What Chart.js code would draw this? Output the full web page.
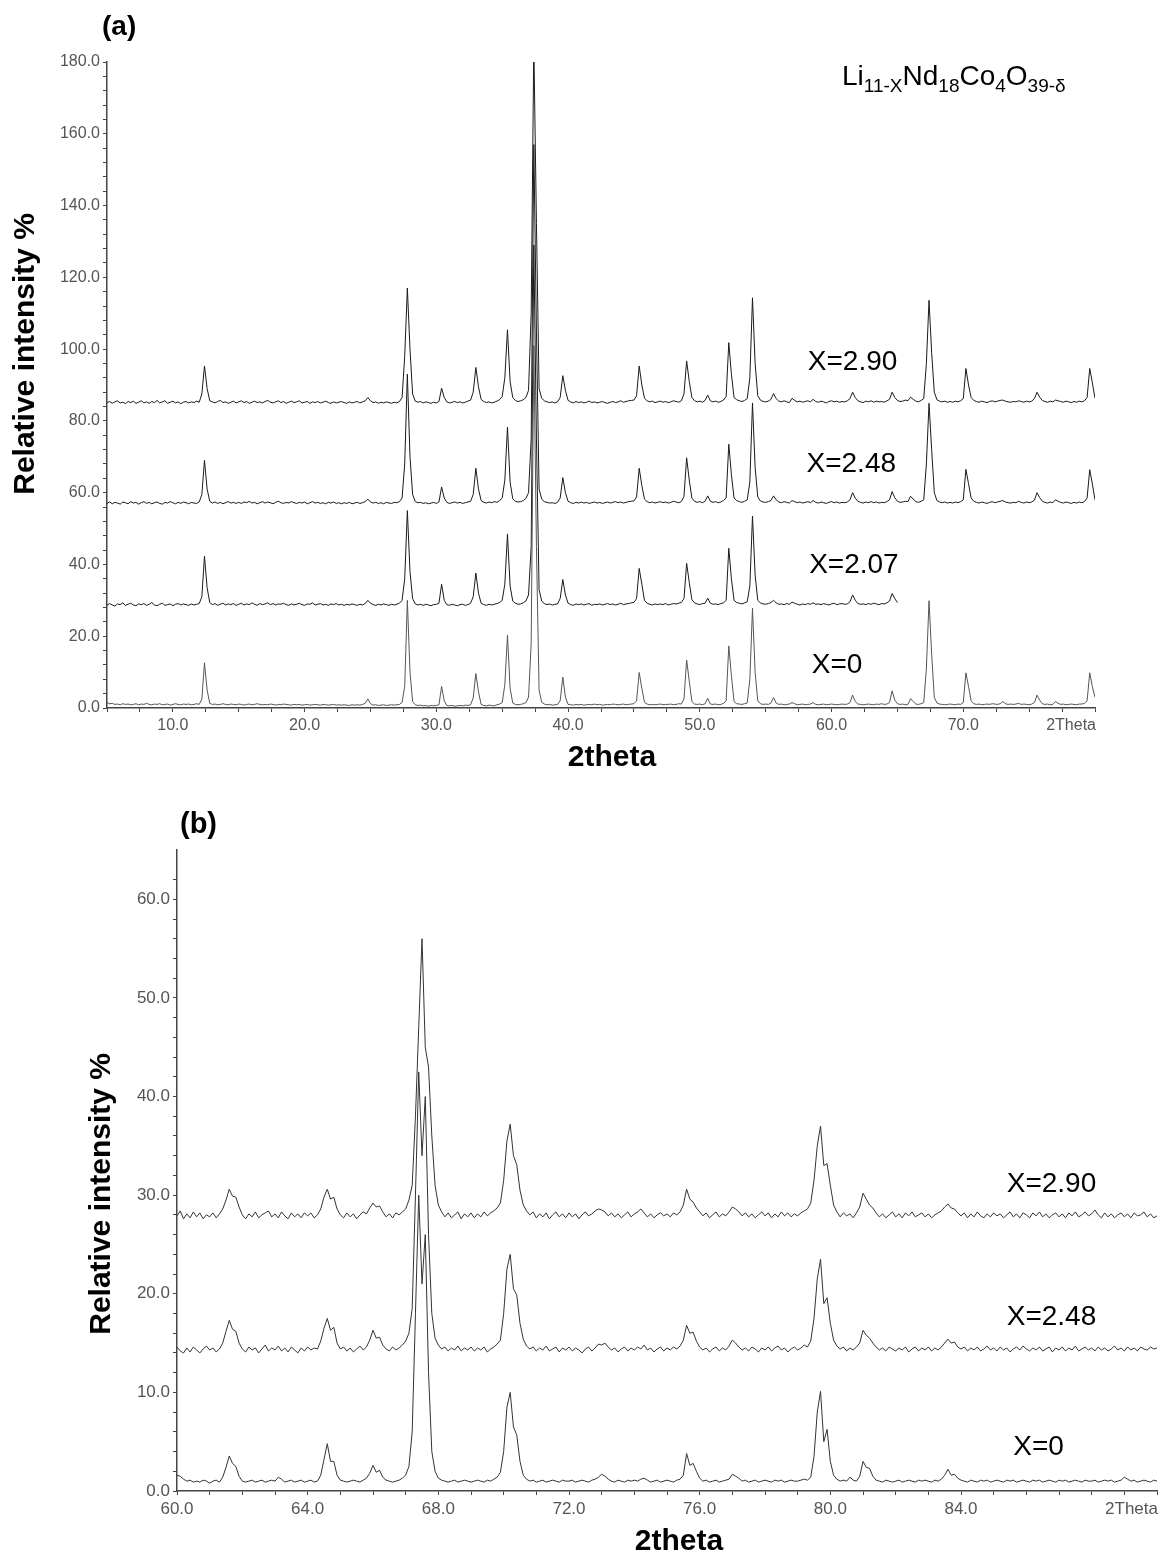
<!DOCTYPE html>
<html>
<head>
<meta charset="utf-8">
<script src="https://cdn.jsdelivr.net/npm/chart.js@4.4.1/dist/chart.umd.min.js"></script>
<style>
  html, body { margin: 0; padding: 0; background: #fff; }
  body { width: 1161px; height: 1557px; position: relative; overflow: hidden; }
  .panel { position: absolute; left: 0; width: 1161px; }
  #wrapA { top: 0; height: 785px; }
  #wrapB { top: 785px; height: 772px; }
</style>
</head>
<body>
<div class="panel" id="wrapA"><canvas id="chartA"></canvas></div>
<div class="panel" id="wrapB"><canvas id="chartB"></canvas></div>
<script>
// scan grids: panel (a) 5.0-80.0 every 0.2 deg, panel (b) 60.0-90.0 every 0.1 deg
const startA = 5.0, stepA = 0.2;
const startB = 60.0, stepB = 0.1;

// panel (a), one row = 2 degrees
const x0A = [
  1.5, 1.2, 1.3, 1.0, 1.1, 0.9, 1.2, 1.0, 1.1, 0.9,   // 5
  1.0, 1.2, 0.9, 1.1, 1.0, 1.3, 1.0, 0.9, 1.1, 1.0,   // 7
  1.2, 0.9, 1.0, 1.1, 0.8, 1.0, 1.2, 1.0, 0.9, 1.1,   // 9
  1.0, 1.1, 0.9, 1.0, 1.2, 1.0, 2.5, 12.6, 5.0, 1.3,  // 11
  1.0, 1.1, 0.9, 1.0, 1.2, 1.0, 0.9, 1.1, 1.0, 0.9,   // 13
  1.1, 1.0, 0.8, 1.0, 1.1, 0.9, 1.0, 1.2, 1.0, 0.9,   // 15
  1.0, 0.9, 1.1, 1.0, 0.8, 1.0, 0.9, 1.1, 1.0, 0.9,   // 17
  0.8, 1.0, 0.9, 1.0, 0.8, 0.9, 1.0, 0.8, 0.9, 1.0,   // 19
  0.9, 0.8, 1.0, 0.9, 0.8, 0.9, 1.0, 0.8, 0.9, 0.8,   // 21
  0.9, 0.8, 0.7, 0.9, 0.8, 0.9, 0.8, 1.0, 1.3, 2.5,   // 23
  1.2, 0.8, 0.9, 0.7, 0.8, 0.9, 0.7, 0.8, 0.9, 0.8,   // 25
  0.9, 1.0, 1.6, 6.0, 30.0, 10.0, 1.8, 0.9, 0.7, 0.8, // 27
  0.6, 0.7, 0.5, 0.7, 0.6, 0.7, 0.9, 6.0, 2.0, 0.7,   // 29
  0.6, 0.7, 0.5, 0.6, 0.7, 0.6, 0.8, 0.7, 0.9, 2.8,   // 31
  9.6, 4.5, 1.0, 0.7, 0.6, 0.8, 0.7, 0.6, 0.9, 1.1,   // 33
  1.5, 6.5, 20.3, 5.5, 1.4, 1.0, 0.9, 1.0, 1.2, 1.5,  // 35
  3.0, 18.0, 101.0, 45.0, 5.0, 1.6, 1.1, 0.9, 1.0, 0.8, // 37
  0.9, 1.0, 2.0, 8.6, 3.0, 1.0, 0.9, 0.8, 1.0, 0.9,   // 39
  1.0, 0.8, 0.9, 1.0, 0.9, 1.1, 0.9, 1.0, 0.8, 0.9,   // 41
  1.0, 0.9, 1.1, 1.0, 0.9, 1.0, 1.1, 0.9, 1.0, 1.1,   // 43
  1.2, 2.0, 9.9, 5.5, 1.6, 1.1, 0.9, 1.0, 0.9, 1.0,   // 45
  1.1, 0.9, 1.0, 1.0, 1.1, 0.9, 1.0, 1.2, 1.1, 2.5,   // 47
  13.4, 7.5, 1.8, 1.1, 1.0, 1.1, 0.9, 1.2, 2.7, 1.1,  // 49
  1.0, 1.1, 0.9, 1.0, 1.3, 2.0, 17.3, 9.0, 1.8, 1.2,  // 51
  1.1, 1.0, 1.2, 1.4, 8.0, 27.8, 10.0, 2.0, 1.2, 1.0, // 53
  1.1, 1.0, 1.4, 2.9, 1.4, 1.0, 1.1, 0.9, 1.0, 1.1,   // 55
  1.5, 1.2, 0.9, 1.0, 1.1, 0.9, 1.0, 1.1, 1.5, 1.0,   // 57
  0.9, 1.0, 1.1, 0.9, 1.0, 1.1, 1.0, 0.9, 1.0, 1.1,   // 59
  1.0, 1.1, 1.5, 3.6, 1.8, 1.1, 1.0, 0.9, 1.0, 1.1,   // 61
  1.0, 0.9, 1.1, 1.0, 1.2, 1.0, 1.1, 1.5, 4.8, 2.2,   // 63
  1.2, 1.0, 1.1, 0.9, 1.0, 2.6, 1.8, 1.1, 1.0, 1.2,   // 65
  1.5, 11.0, 29.9, 15.0, 3.0, 1.4, 1.1, 1.0, 0.9, 1.0, // 67
  1.1, 1.0, 0.9, 1.1, 1.0, 1.5, 9.8, 6.0, 2.0, 1.2,   // 69
  1.0, 1.1, 0.9, 1.0, 1.1, 1.0, 1.2, 1.1, 1.0, 1.2,   // 71
  1.8, 1.2, 1.0, 1.1, 1.0, 1.1, 1.3, 1.0, 1.1, 1.0,   // 73
  0.9, 1.1, 1.5, 3.6, 2.2, 1.2, 1.0, 1.1, 0.9, 1.0,   // 75
  1.8, 1.3, 1.0, 1.1, 0.9, 1.0, 1.1, 1.0, 0.9, 1.1,   // 77
  1.1, 1.3, 2.0, 9.8, 5.9, 3.0];                       // 79-80

// X=2.07 was only scanned up to 65 deg
const x207A = [
  28.6, 29.1, 28.7, 28.4, 29.0, 28.8, 29.3, 28.6, 28.9, 29.2,
  28.7, 28.5, 29.0, 28.8, 29.1, 28.6, 28.9, 29.4, 28.7, 28.5,
  28.9, 29.2, 28.6, 28.8, 29.0, 28.5, 28.9, 29.1, 28.7, 29.0,
  28.8, 28.6, 29.0, 28.7, 28.9, 29.1, 31.0, 42.3, 33.5, 29.4,
  28.8, 29.1, 28.6, 28.9, 29.2, 28.7, 29.0, 28.8, 29.1, 28.6,
  28.9, 29.2, 28.7, 29.0, 28.8, 29.3, 28.9, 28.6, 29.1, 28.8,
  29.0, 29.3, 28.8, 29.1, 28.7, 29.0, 28.9, 29.2, 28.8, 28.6,
  29.0, 28.7, 28.9, 29.2, 28.8, 28.6, 29.0, 28.9, 29.3, 28.7,
  28.9, 29.1, 28.7, 28.9, 28.6, 29.0, 28.8, 29.1, 28.7, 28.9,
  28.6, 28.9, 28.7, 29.0, 28.8, 28.6, 28.9, 28.7, 29.1, 30.0,
  29.2, 28.8, 28.6, 28.9, 28.7, 29.0, 28.8, 28.6, 28.9, 28.7,
  28.9, 29.2, 30.0, 36.0, 55.0, 38.0, 30.5, 29.0, 28.7, 28.9,
  28.6, 28.9, 28.7, 28.5, 28.8, 28.9, 29.2, 34.5, 30.0, 28.8,
  28.6, 28.9, 28.7, 28.5, 28.8, 28.9, 28.6, 28.8, 29.2, 31.0,
  37.6, 32.0, 29.2, 28.8, 28.6, 28.9, 28.7, 28.9, 29.1, 29.4,
  30.0, 34.5, 48.5, 34.0, 29.8, 29.2, 28.9, 29.0, 29.3, 29.8,
  31.5, 45.0, 129.0, 75.0, 33.0, 29.8, 29.1, 28.8, 29.0, 28.7,
  28.9, 29.0, 30.5, 35.8, 31.5, 29.2, 28.8, 28.6, 29.0, 28.8,
  29.0, 28.7, 28.9, 29.1, 28.6, 28.9, 28.8, 29.0, 28.7, 28.9,
  29.1, 28.8, 29.0, 28.7, 28.9, 29.2, 28.8, 29.0, 29.1, 29.3,
  29.4, 30.5, 38.9, 34.5, 30.0, 29.2, 28.9, 28.7, 29.0, 28.8,
  29.0, 28.8, 29.1, 28.7, 28.9, 29.1, 29.0, 29.2, 29.4, 30.5,
  40.3, 35.0, 30.2, 29.3, 29.0, 28.8, 29.1, 29.2, 30.6, 29.2,
  28.9, 29.0, 28.8, 29.1, 29.3, 30.0, 44.5, 36.0, 30.0, 29.4,
  29.2, 29.0, 29.3, 29.6, 34.0, 53.5, 37.0, 30.0, 29.3, 29.0,
  28.9, 29.1, 29.4, 30.0, 29.3, 28.9, 29.0, 28.8, 29.1, 28.9,
  29.5, 29.2, 28.9, 28.7, 29.0, 28.8, 29.1, 28.9, 29.3, 28.9,
  29.0, 28.8, 29.1, 28.9, 28.7, 29.0, 29.2, 28.8, 29.0, 29.1,
  28.9, 29.0, 29.6, 31.5, 30.0, 29.1, 28.9, 29.0, 28.8, 29.1,
  28.9, 29.2, 29.0, 28.8, 29.1, 29.0, 29.3, 29.8, 31.9, 30.5,
  29.4];

const x248A = [
  57.0, 57.4, 56.9, 57.3, 57.1, 56.8, 57.4, 57.2, 56.9, 57.5,
  57.1, 57.3, 56.8, 57.2, 57.5, 57.0, 57.3, 56.9, 57.2, 57.4,
  57.0, 56.8, 57.3, 57.1, 57.5, 57.2, 56.9, 57.3, 57.0, 57.4,
  57.2, 56.9, 57.3, 57.1, 57.0, 57.4, 59.5, 69.0, 61.0, 57.6,
  57.1, 57.4, 57.0, 57.3, 56.9, 57.2, 57.5, 57.1, 57.3, 57.0,
  57.3, 57.0, 57.4, 57.2, 57.6, 57.1, 57.3, 56.9, 57.2, 57.5,
  57.1, 57.4, 57.2, 56.9, 57.3, 57.6, 57.2, 57.0, 57.3, 57.1,
  57.5, 57.2, 57.0, 57.3, 57.1, 57.4, 56.9, 57.2, 57.5, 57.1,
  57.3, 57.0, 57.2, 56.9, 57.3, 57.1, 57.4, 57.0, 57.2, 56.9,
  57.2, 57.0, 57.3, 56.9, 57.1, 57.3, 57.0, 57.2, 57.5, 58.2,
  57.4, 57.1, 57.3, 57.0, 57.2, 56.9, 57.3, 57.1, 57.0, 57.3,
  57.2, 57.5, 58.5, 68.0, 93.0, 70.0, 59.5, 57.5, 57.2, 57.3,
  57.0, 57.2, 56.9, 57.1, 57.3, 57.0, 57.4, 61.6, 58.5, 57.3,
  57.0, 57.2, 57.4, 57.1, 57.3, 57.0, 57.2, 57.4, 57.6, 59.5,
  66.8, 61.0, 57.8, 57.3, 57.1, 57.4, 57.2, 57.5, 57.3, 57.8,
  58.5, 63.5, 78.3, 63.0, 58.3, 57.6, 57.4, 57.5, 57.8, 58.4,
  60.0, 75.0, 157.0, 105.0, 61.0, 58.2, 57.5, 57.3, 57.1, 57.2,
  57.0, 57.3, 58.5, 64.2, 60.0, 57.6, 57.2, 57.0, 57.3, 57.1,
  57.4, 57.1, 57.3, 57.0, 57.2, 57.4, 57.1, 57.3, 57.0, 57.2,
  57.4, 57.1, 57.3, 57.5, 57.2, 57.4, 57.1, 57.3, 57.5, 57.6,
  57.7, 58.8, 66.8, 62.0, 58.2, 57.5, 57.2, 57.4, 57.1, 57.3,
  57.5, 57.2, 57.4, 57.1, 57.3, 57.6, 57.4, 57.2, 57.5, 59.0,
  69.7, 63.5, 58.5, 57.6, 57.3, 57.5, 57.2, 57.6, 59.1, 57.6,
  57.3, 57.5, 57.2, 57.4, 57.8, 58.5, 73.5, 65.0, 58.5, 57.8,
  57.5, 57.3, 57.6, 58.0, 63.0, 85.0, 67.0, 58.8, 57.7, 57.4,
  57.3, 57.5, 57.8, 59.1, 58.0, 57.4, 57.2, 57.5, 57.3, 57.1,
  57.8, 57.5, 57.2, 57.4, 57.1, 57.3, 57.5, 57.2, 57.8, 57.3,
  57.1, 57.4, 57.2, 57.0, 57.3, 57.5, 57.2, 57.4, 57.1, 57.3,
  57.2, 57.4, 58.0, 60.0, 58.5, 57.6, 57.3, 57.1, 57.4, 57.2,
  57.5, 57.2, 57.4, 57.1, 57.3, 57.2, 57.5, 58.0, 60.3, 58.6,
  57.6, 57.3, 57.4, 57.6, 57.5, 59.0, 58.2, 57.5, 57.3, 57.6,
  58.0, 68.0, 84.9, 72.0, 60.0, 57.8, 57.4, 57.2, 57.4, 57.1,
  57.3, 57.1, 57.4, 57.2, 57.5, 58.0, 66.5, 62.5, 58.5, 57.6,
  57.3, 57.1, 57.4, 57.2, 57.0, 57.3, 57.5, 57.2, 57.4, 57.6,
  57.8, 57.4, 57.2, 57.1, 57.3, 57.2, 57.6, 57.3, 57.1, 57.4,
  57.2, 57.4, 57.9, 60.0, 58.6, 57.6, 57.3, 57.1, 57.4, 57.2,
  58.0, 57.6, 57.3, 57.1, 57.4, 57.2, 57.0, 57.3, 57.1, 57.4,
  57.2, 57.5, 58.5, 66.4, 62.4, 58.0];

const x290A = [
  85.1, 85.4, 84.9, 85.3, 85.6, 85.0, 85.2, 84.8, 85.4, 85.1,
  85.5, 84.9, 85.2, 85.6, 85.0, 85.3, 84.9, 85.4, 85.1, 85.7,
  85.0, 85.3, 85.6, 84.9, 85.2, 85.5, 85.0, 85.3, 84.8, 85.2,
  85.4, 85.0, 85.3, 85.1, 85.5, 85.2, 87.5, 95.3, 89.0, 85.6,
  85.3, 85.0, 85.4, 85.7, 85.1, 85.3, 84.9, 85.2, 85.5, 85.0,
  85.3, 85.6, 85.1, 85.4, 84.9, 85.2, 85.5, 85.1, 85.3, 85.0,
  85.4, 85.7, 85.2, 85.0, 85.3, 85.6, 85.1, 85.4, 84.9, 85.2,
  85.5, 85.1, 85.3, 85.6, 85.0, 85.2, 85.4, 84.9, 85.3, 85.1,
  85.4, 85.0, 85.2, 85.5, 85.1, 84.9, 85.3, 85.0, 85.2, 85.4,
  85.1, 84.9, 85.3, 85.0, 85.2, 85.4, 85.0, 85.3, 85.6, 86.5,
  85.6, 85.1, 85.3, 84.9, 85.2, 85.0, 85.3, 85.1, 84.9, 85.2,
  85.0, 85.4, 86.5, 98.0, 117.0, 100.0, 87.5, 85.5, 85.2, 85.4,
  85.0, 85.3, 85.1, 84.9, 85.2, 85.0, 85.4, 89.1, 86.5, 85.3,
  85.0, 85.2, 85.4, 85.1, 85.3, 85.0, 85.2, 85.5, 85.8, 88.0,
  94.9, 89.5, 86.0, 85.4, 85.1, 85.3, 85.0, 85.2, 85.5, 85.9,
  86.8, 92.0, 105.4, 91.0, 86.5, 85.7, 85.4, 85.6, 85.9, 86.5,
  88.5, 110.0, 185.0, 135.0, 89.0, 86.3, 85.6, 85.3, 85.1, 85.3,
  85.0, 85.3, 86.5, 92.6, 88.5, 85.7, 85.3, 85.0, 85.4, 85.1,
  85.3, 85.0, 85.2, 85.5, 85.1, 85.3, 85.0, 85.2, 85.4, 85.1,
  84.9, 85.2, 85.4, 85.1, 85.3, 85.6, 85.2, 85.4, 85.6, 85.7,
  85.8, 87.0, 95.3, 90.0, 86.3, 85.6, 85.3, 85.5, 85.1, 85.3,
  85.5, 85.2, 85.4, 85.1, 85.3, 85.6, 85.4, 85.2, 85.6, 87.5,
  96.7, 91.0, 86.5, 85.6, 85.3, 85.5, 85.2, 85.7, 87.2, 85.6,
  85.3, 85.5, 85.2, 85.4, 85.8, 86.8, 101.8, 93.0, 86.5, 85.9,
  85.6, 85.4, 85.7, 86.2, 92.0, 114.3, 96.0, 87.0, 85.8, 85.4,
  85.3, 85.5, 86.0, 87.6, 86.2, 85.5, 85.3, 85.6, 85.3, 85.1,
  86.3, 85.7, 85.3, 85.5, 85.2, 85.4, 85.6, 85.3, 86.0, 85.4,
  85.2, 85.5, 85.3, 85.0, 85.4, 85.6, 85.3, 85.5, 85.2, 85.4,
  85.3, 85.6, 86.2, 88.0, 86.5, 85.6, 85.3, 85.1, 85.5, 85.3,
  85.6, 85.2, 85.5, 85.3, 85.4, 85.2, 85.6, 86.0, 88.0, 86.5,
  85.7, 85.4, 85.5, 85.8, 85.6, 86.6, 86.0, 85.5, 85.3, 85.7,
  86.2, 96.0, 113.6, 99.0, 88.0, 85.9, 85.5, 85.3, 85.5, 85.2,
  85.4, 85.2, 85.5, 85.3, 85.6, 86.2, 94.6, 90.0, 86.5, 85.7,
  85.4, 85.2, 85.5, 85.3, 85.1, 85.4, 85.6, 85.3, 85.5, 85.7,
  85.8, 85.5, 85.3, 85.2, 85.4, 85.3, 85.6, 85.4, 85.2, 85.5,
  85.3, 85.5, 86.2, 88.0, 86.6, 85.7, 85.4, 85.2, 85.5, 85.3,
  85.8, 85.6, 85.4, 85.2, 85.5, 85.3, 85.1, 85.4, 85.2, 85.5,
  85.3, 85.6, 86.5, 94.6, 90.6, 86.3];

// panel (b), one row = 1 degree
const x0B = [
  1.6, 1.5, 1.2, 1.0, 1.1, 0.9, 1.0, 0.9, 1.1, 1.0,   // 60
  0.8, 1.0, 1.1, 0.9, 1.4, 2.4, 3.55, 2.8, 2.5, 1.5,  // 61
  1.0, 0.9, 1.0, 1.1, 0.9, 1.0, 1.1, 0.9, 1.0, 1.1,   // 62
  1.0, 1.4, 1.2, 0.9, 1.0, 1.1, 0.9, 1.0, 1.1, 0.9,   // 63
  1.0, 1.1, 0.9, 1.0, 1.6, 3.2, 4.8, 3.0, 3.0, 1.6,   // 64
  1.1, 1.0, 0.9, 1.0, 1.1, 1.0, 0.9, 1.1, 1.3, 1.8,   // 65
  2.6, 1.9, 2.1, 1.4, 1.1, 1.0, 0.9, 1.0, 1.1, 1.3,   // 66
  1.6, 2.5, 6.0, 18.0, 30.0, 21.0, 26.0, 12.0, 4.0, 2.0, // 67
  1.3, 1.1, 1.0, 0.9, 1.0, 1.1, 0.9, 1.0, 1.1, 1.0,   // 68
  0.9, 1.0, 1.1, 1.0, 0.9, 1.1, 1.0, 1.2, 1.4, 1.9,   // 69
  4.0, 8.5, 10.0, 6.5, 5.7, 3.0, 1.6, 1.2, 1.0, 1.1,  // 70
  0.9, 1.0, 1.1, 0.9, 1.0, 1.1, 1.0, 0.9, 1.1, 1.0,   // 71
  1.0, 1.1, 0.9, 1.0, 1.1, 1.0, 0.9, 1.1, 1.2, 1.4,   // 72
  1.7, 1.5, 1.2, 1.0, 0.9, 1.1, 1.0, 0.9, 1.1, 1.0,   // 73
  1.1, 1.0, 1.2, 1.3, 1.1, 0.9, 1.0, 1.1, 0.9, 1.0,   // 74
  1.1, 1.0, 0.9, 1.1, 1.2, 1.6, 3.8, 2.6, 2.8, 2.0,   // 75
  1.3, 1.0, 1.1, 0.9, 1.0, 1.1, 0.9, 1.0, 1.1, 1.2,   // 76
  1.7, 1.5, 1.3, 1.0, 1.1, 0.9, 1.0, 1.1, 0.9, 1.0,   // 77
  1.1, 1.0, 0.9, 1.1, 1.0, 1.1, 0.9, 1.0, 1.1, 1.0,   // 78
  1.0, 1.1, 1.2, 1.1, 1.4, 3.5, 8.0, 10.1, 5.0, 6.25, // 79
  3.0, 1.6, 1.2, 1.0, 1.1, 1.0, 1.4, 1.1, 1.0, 1.5,   // 80
  3.0, 2.4, 2.3, 1.5, 1.1, 1.0, 0.9, 1.1, 1.0, 0.9,   // 81
  1.0, 1.1, 0.9, 1.0, 1.1, 1.0, 0.9, 1.1, 1.0, 1.1,   // 82
  1.0, 0.9, 1.1, 1.0, 1.2, 1.6, 2.2, 1.6, 1.7, 1.3,   // 83
  1.1, 1.0, 0.9, 1.1, 1.0, 0.9, 1.1, 1.0, 1.1, 0.9,   // 84
  1.0, 1.1, 1.0, 0.9, 1.1, 1.0, 1.1, 0.9, 1.0, 1.1,   // 85
  1.0, 0.9, 1.1, 1.0, 1.1, 0.9, 1.0, 1.1, 1.0, 0.9,   // 86
  1.1, 1.0, 1.1, 0.9, 1.0, 1.1, 1.0, 0.9, 1.1, 1.0,   // 87
  1.0, 1.1, 0.9, 1.0, 1.1, 1.0, 1.1, 0.9, 1.0, 1.1,   // 88
  1.4, 1.2, 1.0, 1.1, 0.9, 1.0, 1.1, 1.0, 0.9, 1.1,   // 89
  1.0];                                                // 90

const x248B = [
  14.6, 14.2, 14.0, 14.5, 14.1, 14.6, 14.3, 14.0, 14.4, 14.7,
  14.3, 14.5, 14.1, 14.4, 15.0, 16.2, 17.3, 16.4, 16.2, 15.0,
  14.4, 14.1, 14.6, 14.3, 14.5, 14.0, 14.4, 14.8, 14.2, 14.5,
  14.3, 14.7, 14.2, 14.5, 14.1, 14.6, 14.3, 14.0, 14.5, 14.2,
  14.6, 14.3, 14.5, 14.4, 15.2, 16.5, 17.5, 16.3, 16.6, 15.0,
  14.4, 14.6, 14.2, 14.5, 14.1, 14.4, 14.7, 14.3, 14.6, 15.3,
  16.3, 15.5, 15.6, 14.8, 14.4, 14.2, 14.6, 14.3, 14.5, 14.8,
  15.2, 16.0, 18.5, 30.0, 42.5, 34.0, 40.0, 26.0, 18.0, 15.5,
  14.8, 14.4, 14.6, 14.2, 14.5, 14.3, 14.7, 14.2, 14.5, 14.3,
  14.6, 14.2, 14.5, 14.3, 14.6, 14.1, 14.4, 14.6, 14.9, 15.3,
  18.0, 22.5, 24.0, 20.5, 19.9, 17.0, 15.4, 14.7, 14.4, 14.6,
  14.2, 14.5, 14.3, 14.7, 14.2, 14.4, 14.6, 14.1, 14.5, 14.3,
  14.6, 14.2, 14.5, 14.3, 14.0, 14.4, 14.6, 14.2, 14.5, 14.9,
  14.8, 15.0, 14.6, 14.3, 14.5, 14.1, 14.4, 14.6, 14.2, 14.5,
  14.3, 14.6, 14.4, 14.8, 14.3, 14.5, 14.1, 14.4, 14.6, 14.2,
  14.5, 14.3, 14.6, 14.4, 14.7, 15.3, 16.8, 16.0, 16.1, 15.2,
  14.6, 14.3, 14.5, 14.1, 14.4, 14.6, 14.2, 14.5, 14.3, 14.7,
  15.3, 15.0, 14.6, 14.3, 14.5, 14.2, 14.6, 14.4, 14.1, 14.5,
  14.3, 14.6, 14.2, 14.5, 14.7, 14.3, 14.5, 14.1, 14.4, 14.6,
  14.3, 14.5, 14.8, 14.6, 15.2, 17.5, 21.5, 23.5, 19.0, 19.6,
  17.0, 15.3, 14.7, 14.4, 14.6, 14.2, 14.5, 14.3, 14.6, 15.0,
  16.3, 15.8, 15.5, 15.0, 14.6, 14.3, 14.5, 14.2, 14.6, 14.4,
  14.2, 14.5, 14.3, 14.6, 14.1, 14.4, 14.6, 14.2, 14.5, 14.3,
  14.6, 14.2, 14.5, 14.3, 14.6, 15.0, 15.4, 15.0, 15.1, 14.6,
  14.4, 14.6, 14.2, 14.5, 14.3, 14.6, 14.2, 14.4, 14.7, 14.3,
  14.5, 14.2, 14.6, 14.3, 14.5, 14.1, 14.4, 14.6, 14.3, 14.7,
  14.4, 14.2, 14.5, 14.3, 14.6, 14.2, 14.4, 14.6, 14.1, 14.5,
  14.3, 14.6, 14.2, 14.5, 14.3, 14.7, 14.2, 14.4, 14.6, 14.3,
  14.5, 14.2, 14.6, 14.3, 14.5, 14.2, 14.4, 14.7, 14.3, 14.5,
  14.2, 14.6, 14.3, 14.5, 14.2, 14.6, 14.4, 14.3, 14.6, 14.4,
  14.5];

const x290B = [
  27.9, 28.4, 27.6, 28.1, 27.7, 28.3, 27.8, 28.2, 27.6, 28.0,
  27.8, 28.2, 27.7, 28.1, 28.6, 29.5, 30.6, 29.9, 29.8, 28.8,
  28.0, 27.6, 28.1, 27.8, 28.3, 27.7, 28.0, 28.2, 28.4, 27.8,
  28.1, 27.7, 28.3, 27.9, 27.6, 28.2, 27.8, 28.1, 27.7, 28.2,
  27.9, 28.2, 27.7, 28.0, 28.6, 29.8, 30.6, 29.6, 29.8, 28.6,
  28.0, 27.7, 28.2, 27.8, 28.1, 27.6, 28.0, 28.3, 28.1, 28.7,
  29.2, 28.8, 28.9, 28.3, 27.8, 28.1, 27.7, 28.2, 28.0, 28.3,
  28.6, 29.5, 31.0, 38.0, 47.0, 56.0, 45.0, 43.0, 36.0, 31.0,
  29.0, 28.3, 27.8, 28.2, 27.7, 28.0, 28.3, 27.6, 28.1, 27.8,
  28.2, 27.7, 28.1, 27.8, 28.3, 27.9, 28.2, 28.4, 28.7, 29.2,
  31.5, 35.5, 37.2, 34.0, 33.1, 30.5, 29.0, 28.4, 28.0, 28.3,
  27.7, 28.1, 27.8, 28.2, 27.6, 28.0, 28.3, 27.8, 28.1, 27.7,
  28.2, 27.8, 28.1, 27.6, 28.0, 28.3, 27.9, 28.1, 28.4, 28.6,
  28.5, 28.3, 27.9, 28.2, 27.8, 28.1, 27.7, 28.0, 28.3, 27.8,
  28.1, 28.3, 28.6, 28.2, 27.8, 28.1, 27.7, 28.0, 28.2, 27.9,
  28.1, 27.8, 28.2, 28.0, 28.3, 29.0, 30.6, 29.6, 29.3, 28.7,
  28.3, 27.9, 28.2, 27.7, 28.0, 28.3, 27.8, 28.1, 27.9, 28.3,
  28.8, 28.6, 28.3, 27.9, 28.2, 27.8, 28.1, 27.7, 28.0, 28.3,
  27.9, 28.2, 27.7, 28.1, 27.8, 28.3, 27.9, 28.2, 27.8, 28.1,
  27.9, 28.2, 28.4, 28.6, 29.2, 31.5, 35.0, 37.0, 33.0, 33.2,
  31.0, 29.0, 28.3, 27.8, 28.2, 27.9, 28.1, 27.7, 28.2, 28.8,
  30.2, 29.6, 29.0, 28.7, 28.2, 27.8, 28.1, 27.7, 28.0, 28.3,
  27.8, 28.1, 27.7, 28.2, 27.9, 28.3, 27.8, 28.0, 28.2, 27.8,
  28.1, 27.7, 28.0, 28.2, 28.4, 28.8, 29.1, 28.7, 28.6, 28.2,
  27.9, 28.2, 27.7, 28.1, 27.8, 28.3, 27.9, 27.7, 28.1, 27.8,
  28.2, 27.9, 28.1, 27.7, 28.0, 28.3, 27.8, 28.1, 27.7, 28.2,
  28.0, 27.7, 28.2, 27.9, 28.3, 27.8, 28.1, 27.7, 28.0, 28.2,
  27.8, 28.1, 27.7, 28.2, 27.9, 28.3, 27.8, 28.0, 28.3, 27.9,
  28.1, 28.5, 28.0, 27.7, 28.2, 27.8, 28.1, 27.7, 28.0, 28.2,
  27.8, 28.1, 27.7, 28.2, 27.9, 28.0, 28.3, 27.8, 28.1, 27.7,
  27.9];

const FONT = '"Liberation Sans", Arial, sans-serif';

function toPoints(start, step, ys) {
  return ys.map((y, i) => ({ x: Math.round((start + i * step) * 100) / 100, y: y }));
}

function isMultiple(v, step) {
  const r = v / step;
  return Math.abs(r - Math.round(r)) < 1e-6;
}

function trace(label, start, step, ys, color) {
  return {
    label: label,
    data: toPoints(start, step, ys),
    borderColor: color,
    borderWidth: 1,
    pointRadius: 0,
    tension: 0,
    fill: false
  };
}

// panel letter, axis titles, sample labels, formula and the "2Theta" end label
const panelText = {
  id: 'panelText',
  afterDraw(chart, args, o) {
    const ctx = chart.ctx;
    const xs = chart.scales.x;
    const ys = chart.scales.y;
    ctx.save();

    ctx.fillStyle = '#555';
    ctx.font = o.tickSize + 'px ' + FONT;
    ctx.textAlign = 'right';
    ctx.textBaseline = 'middle';
    ctx.fillText('2Theta', xs.right + 1, xs.top + 4 + o.tickPad + o.tickSize * 0.6);

    ctx.fillStyle = '#000';
    ctx.font = 'bold ' + o.letter.size + 'px ' + FONT;
    ctx.textAlign = 'left';
    ctx.textBaseline = 'alphabetic';
    ctx.fillText(o.letter.text, o.letter.x, o.letter.y);

    ctx.font = 'bold 30px ' + FONT;
    ctx.textAlign = 'center';
    ctx.textBaseline = 'middle';
    ctx.fillText('2theta', o.xTitle.x, o.xTitle.y);

    ctx.save();
    ctx.translate(o.yTitle.x, o.yTitle.y);
    ctx.rotate(-Math.PI / 2);
    ctx.textAlign = 'right';
    ctx.fillText('Relative intensity %', 0, 0);
    ctx.restore();

    ctx.font = o.labelSize + 'px ' + FONT;
    ctx.textAlign = 'left';
    ctx.textBaseline = 'alphabetic';
    o.labels.forEach(l => {
      ctx.fillText(l.text, xs.getPixelForValue(l.at[0]), ys.getPixelForValue(l.at[1]));
    });

    if (o.formula) {
      let x = o.formula.x;
      o.formula.parts.forEach(p => {
        const sub = p[1];
        ctx.font = (sub ? 19 : 28) + 'px ' + FONT;
        ctx.fillText(p[0], x, o.formula.y + (sub ? 7 : 0));
        x += ctx.measureText(p[0]).width;
      });
    }
    ctx.restore();
  }
};

function axisStyle() {
  return {
    grid: { drawOnChartArea: false, drawTicks: true, tickLength: 4, color: '#444', lineWidth: 1 },
    border: { display: true, color: '#444', width: 1.5 }
  };
}

new Chart(document.getElementById('chartA'), {
  type: 'line',
  data: {
    datasets: [
      trace('X=0', startA, stepA, x0A, '#555'),
      trace('X=2.07', startA, stepA, x207A, '#1a1a1a'),
      trace('X=2.48', startA, stepA, x248A, '#1a1a1a'),
      trace('X=2.90', startA, stepA, x290A, '#1a1a1a')
    ]
  },
  options: {
    responsive: true,
    maintainAspectRatio: false,
    animation: false,
    layout: { padding: { top: 62, right: 66, bottom: 0, left: 0 } },
    plugins: {
      legend: { display: false },
      tooltip: { enabled: false },
      panelText: {
        tickSize: 16, tickPad: 4,
        letter: { text: '(a)', x: 102, y: 35, size: 28 },
        xTitle: { x: 612, y: 758 },
        yTitle: { x: 26, y: 213 },
        labelSize: 28,
        labels: [
          { text: 'X=2.90', at: [58.2, 94.2] },
          { text: 'X=2.48', at: [58.1, 65.7] },
          { text: 'X=2.07', at: [58.3, 37.6] },
          { text: 'X=0', at: [58.5, 9.7] }
        ],
        formula: {
          x: 842, y: 85,
          parts: [['Li', false], ['11-X', true], ['Nd', false], ['18', true],
                  ['Co', false], ['4', true], ['O', false], ['39-\u03b4', true]]
        }
      }
    },
    scales: {
      x: Object.assign({
        type: 'linear', min: 5, max: 80,
        afterFit: s => { s.height = 77; },
        ticks: {
          stepSize: 2.5, autoSkip: false, maxRotation: 0, minRotation: 0,
          padding: 4, color: '#555', font: { family: FONT, size: 16 },
          callback: v => (isMultiple(v, 10) && v < 80) ? v.toFixed(1) : ''
        }
      }, axisStyle()),
      y: Object.assign({
        type: 'linear', min: 0, max: 180,
        afterFit: s => { s.width = 107; },
        ticks: {
          stepSize: 4, autoSkip: false, padding: 3, color: '#555',
          font: { family: FONT, size: 16 },
          callback: v => isMultiple(v, 20) ? v.toFixed(1) : ''
        }
      }, axisStyle())
    }
  },
  plugins: [panelText]
});

new Chart(document.getElementById('chartB'), {
  type: 'line',
  data: {
    datasets: [
      trace('X=0', startB, stepB, x0B, '#333'),
      trace('X=2.48', startB, stepB, x248B, '#333'),
      trace('X=2.90', startB, stepB, x290B, '#333')
    ]
  },
  options: {
    responsive: true,
    maintainAspectRatio: false,
    animation: false,
    layout: { padding: { top: 65, right: 4, bottom: 0, left: 0 } },
    plugins: {
      legend: { display: false },
      tooltip: { enabled: false },
      panelText: {
        tickSize: 17, tickPad: 4,
        letter: { text: '(b)', x: 180, y: 48, size: 29 },
        xTitle: { x: 679, y: 757 },
        yTitle: { x: 102, y: 268 },
        labelSize: 28,
        labels: [
          { text: 'X=2.90', at: [85.4, 30.3] },
          { text: 'X=2.48', at: [85.4, 16.8] },
          { text: 'X=0', at: [85.6, 3.65] }
        ]
      }
    },
    scales: {
      x: Object.assign({
        type: 'linear', min: 60, max: 90,
        afterFit: s => { s.height = 66; },
        ticks: {
          stepSize: 1, autoSkip: false, maxRotation: 0, minRotation: 0,
          padding: 4, color: '#555', font: { family: FONT, size: 17 },
          callback: v => (isMultiple(v, 4) && v < 88) ? v.toFixed(1) : ''
        }
      }, axisStyle()),
      y: Object.assign({
        type: 'linear', min: 0, max: 65,
        afterFit: s => { s.width = 177; },
        afterBuildTicks: s => { s.ticks = s.ticks.filter(t => isMultiple(t.value, 2)); },
        ticks: {
          stepSize: 2, autoSkip: false, padding: 3, color: '#555',
          font: { family: FONT, size: 17 },
          callback: v => isMultiple(v, 10) ? v.toFixed(1) : ''
        }
      }, axisStyle())
    }
  },
  plugins: [panelText]
});
</script>
</body>
</html>
